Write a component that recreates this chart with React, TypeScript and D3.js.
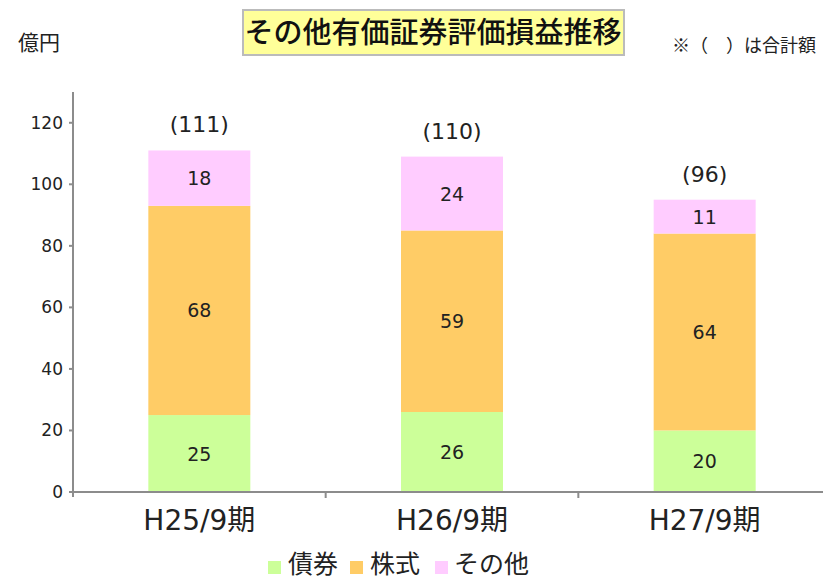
import React from "react";
import * as d3 from "d3";

const categories = ["H25/9期", "H26/9期", "H27/9期"];
const seriesNames = ["債券", "株式", "その他"];
const bonds = [25, 26, 20];
const stocks = [68, 59, 64];
const others = [18, 24, 11];
const totals = ["(111)", "(110)", "(96)"];
const yTicks = [0, 20, 40, 60, 80, 100, 120];
const colors = ["#ccff99", "#ffcc66", "#ffccff"];

const W = 823;
const H = 581;
const FONT = "'Noto Sans CJK JP', 'Noto Sans', sans-serif";
const NUMFONT = "'DejaVu Sans', 'Noto Sans CJK JP', sans-serif";

export default function App() {
  const x0 = 73;
  const x1 = 831;
  const y = d3.scaleLinear().domain([0, 130]).range([492, 92]);
  const x = d3.scaleBand().domain(categories).range([x0, x1]).paddingInner(0).paddingOuter(0);
  const barW = 102;

  const rows = categories.map((c, i) => ({ cat: c, 債券: bonds[i], 株式: stocks[i], その他: others[i] }));
  const stack = d3.stack<any>().keys(seriesNames)(rows);

  const legendItems = [
    { name: "債券", sx: 268, tx: 288 },
    { name: "株式", sx: 350, tx: 370 },
    { name: "その他", sx: 435, tx: 454 },
  ];

  return (
    <svg width={W} height={H} style={{ position: "absolute", left: 0, top: 0, background: "#fff" }} fontFamily={FONT}>
      {/* title */}
      <rect x={243} y={10} width={381} height={45} fill="#ffff99" stroke="#bbbbbb" strokeWidth={2} />
      <text x={433} y={43} textAnchor="middle" fontSize={29} fontWeight={500} fill="#111">
        その他有価証券評価損益推移
      </text>
      <text x={18} y={50} fontSize={21} fill="#222">億円</text>
      <text x={672} y={52} fontSize={18} fill="#222">※（　）は合計額</text>

      {/* bars */}
      {stack.map((s, si) => (
        <g key={si}>
          {s.map((d, i) => {
            const cx = (x(categories[i]) as number) + x.bandwidth() / 2;
            const yt = y(d[1]);
            const yb = y(d[0]);
            return (
              <g key={i}>
                <rect x={cx - barW / 2} y={yt} width={barW} height={yb - yt} fill={colors[si]} />
                <text x={cx} y={(yt + yb) / 2 + 7} textAnchor="middle" fontSize={19} fill="#222" fontFamily={NUMFONT}>
                  {d[1] - d[0]}
                </text>
              </g>
            );
          })}
        </g>
      ))}

      {/* totals */}
      {categories.map((c, i) => {
        const cx = (x(c) as number) + x.bandwidth() / 2;
        const top = y(bonds[i] + stocks[i] + others[i]);
        return (
          <text key={c} x={cx} y={top - 18} textAnchor="middle" fontSize={22} fill="#222" fontFamily={NUMFONT}>
            {totals[i]}
          </text>
        );
      })}

      {/* y axis */}
      <line x1={x0} x2={x0} y1={92} y2={497} stroke="#8c8c8c" strokeWidth={2} />
      {yTicks.map((t) => (
        <g key={t}>
          <line x1={x0 - 4} x2={x0} y1={y(t)} y2={y(t)} stroke="#8c8c8c" strokeWidth={2} />
          <text x={63} y={y(t) + 6} textAnchor="end" fontSize={17} fill="#222" fontFamily={NUMFONT}>
            {t}
          </text>
        </g>
      ))}

      {/* x axis */}
      <line x1={x0 - 4} x2={W} y1={y(0)} y2={y(0)} stroke="#8c8c8c" strokeWidth={2} />
      {categories.slice(1).map((c) => (
        <line key={c} x1={x(c) as number} x2={x(c) as number} y1={y(0)} y2={y(0) + 6} stroke="#8c8c8c" strokeWidth={2} />
      ))}
      {categories.map((c) => (
        <text key={c} x={(x(c) as number) + x.bandwidth() / 2} y={530} textAnchor="middle" fontSize={28} fill="#222" fontFamily={NUMFONT}>
          {c}
        </text>
      ))}

      {/* legend */}
      {legendItems.map((l, i) => (
        <g key={l.name}>
          <rect x={l.sx} y={561} width={13} height={13} fill={colors[i]} />
          <text x={l.tx} y={573} fontSize={25} fill="#222">
            {l.name}
          </text>
        </g>
      ))}
    </svg>
  );
}
